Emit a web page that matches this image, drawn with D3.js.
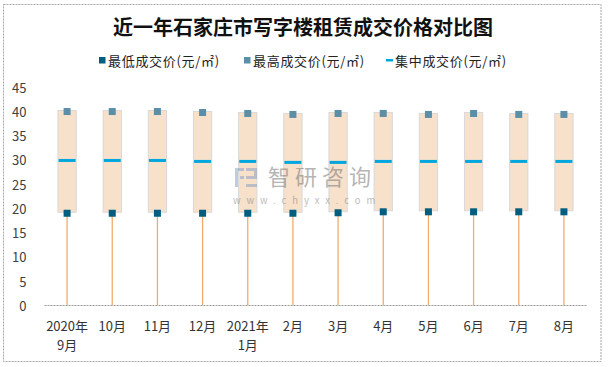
<!DOCTYPE html>
<html>
<head>
<meta charset="utf-8">
<script src="https://cdn.jsdelivr.net/npm/d3@7"></script>
<style>
  html, body { margin: 0; padding: 0; background: #fff; }
  svg { display: block; }
  text { font-family: "Noto Sans CJK SC", "Liberation Sans", sans-serif; }
</style>
</head>
<body>
<svg id="chart" width="609" height="367"></svg>
<script>
// ---- data ----
const months = ["2020年\n9月", "10月", "11月", "12月", "2021年\n1月", "2月", "3月", "4月", "5月", "6月", "7月", "8月"];
const lowPrice  = [19, 19, 19, 19, 19, 19, 19.1, 19.3, 19.3, 19.3, 19.3, 19.3];
const highPrice = [40, 40, 40, 39.8, 39.6, 39.4, 39.6, 39.6, 39.4, 39.6, 39.4, 39.4];
const midPrice  = [29.9, 29.9, 29.9, 29.7, 29.7, 29.5, 29.5, 29.7, 29.7, 29.7, 29.7, 29.7];
const yTicks = [0, 5, 10, 15, 20, 25, 30, 35, 40, 45];
const seriesNames = ["最低成交价(元/㎡)", "最高成交价(元/㎡)", "集中成交价(元/㎡)"];
const titleText = "近一年石家庄市写字楼租赁成交价格对比图";

const colLow = "#005E80", colHigh = "#5B8FA8", colMid = "#00A6DE";
const colBox = "#F8E1CB", colBoxStroke = "#D9D9D9", colStem = "#F0AC6A";

const svg = d3.select("#chart");

// outer frame
svg.append("rect").attr("x", 3.5).attr("y", 4.5).attr("width", 597.5).attr("height", 357)
  .attr("fill", "#fff").attr("stroke", "#a6a6a6").attr("stroke-width", 1).attr("stroke-dasharray", "2,1");

// scales
const x = d3.scaleBand().domain(months).range([44.5, 586.5]).padding(0);
const y = d3.scaleLinear().domain([0, 45]).range([305.3, 87.3]);

// title
svg.append("text").attr("x", 303).attr("y", 26).attr("text-anchor", "middle")
  .attr("dominant-baseline", "central").attr("font-size", 20).attr("font-weight", 700)
  .attr("fill", "#111").text(titleText);

// legend
const lg = svg.append("g");
const legX = [99, 244, 386];
seriesNames.forEach((name, i) => {
  const g = lg.append("g").attr("transform", `translate(${legX[i]},60)`);
  if (i < 2) {
    g.append("rect").attr("x", 0).attr("y", -3).attr("width", 6.5).attr("height", 6.5)
      .attr("fill", i === 0 ? colLow : colHigh);
  } else {
    g.append("rect").attr("x", 0).attr("y", -1).attr("width", 7).attr("height", 2.5).attr("fill", colMid);
  }
  g.append("text").attr("x", 9).attr("y", 0.5).attr("dominant-baseline", "central")
    .attr("font-size", 13).attr("fill", "#222").attr("letter-spacing", 0.7).text(name);
});

// y axis labels
svg.append("g").selectAll("text").data(yTicks).join("text")
  .attr("x", 26.5).attr("y", d => y(d)).attr("text-anchor", "end").attr("dominant-baseline", "central")
  .attr("font-size", 13).attr("fill", "#404040").attr("font-family", "Liberation Sans, Arial, sans-serif")
  .text(d => d);

const idx = d3.range(months.length);
const bw = x.bandwidth() * 0.405;
const cx = i => x(months[i]) + x.bandwidth() / 2;

// stems from 0 to low
svg.append("g").selectAll("line").data(idx).join("line")
  .attr("x1", cx).attr("x2", cx).attr("y1", y(0)).attr("y2", i => y(lowPrice[i]))
  .attr("stroke", colStem).attr("stroke-width", 1.3);

// boxes low..high
svg.append("g").selectAll("rect").data(idx).join("rect")
  .attr("x", i => cx(i) - bw / 2).attr("width", bw)
  .attr("y", i => y(highPrice[i]) - 1).attr("height", i => y(lowPrice[i]) - y(highPrice[i]))
  .attr("fill", colBox).attr("stroke", colBoxStroke).attr("stroke-width", 1);

// mid line
svg.append("g").selectAll("rect").data(idx).join("rect")
  .attr("x", i => cx(i) - 8.5).attr("width", 17)
  .attr("y", i => y(midPrice[i]) - 1.5).attr("height", 3)
  .attr("fill", colMid);

// high markers
svg.append("g").selectAll("rect").data(idx).join("rect")
  .attr("x", i => cx(i) - 3.5).attr("y", i => y(highPrice[i]) - 3.5)
  .attr("width", 7).attr("height", 7).attr("fill", colHigh);

// low markers
svg.append("g").selectAll("rect").data(idx).join("rect")
  .attr("x", i => cx(i) - 3.5).attr("y", i => y(lowPrice[i]) - 3.5)
  .attr("width", 7).attr("height", 7).attr("fill", colLow);

// x axis line
svg.append("line").attr("x1", 44.5).attr("x2", 586.5).attr("y1", 305.5).attr("y2", 305.5)
  .attr("stroke", "#999").attr("stroke-width", 1).attr("stroke-dasharray", "2,1");

// x labels
const xl = svg.append("g").selectAll("text").data(months).join("text")
  .attr("x", d => x(d) + x.bandwidth() / 2).attr("y", 325)
  .attr("text-anchor", "middle").attr("font-size", 13).attr("fill", "#333");
xl.each(function(d) {
  const lines = d.split("\n");
  const t = d3.select(this);
  lines.forEach((ln, k) => {
    t.append("tspan").attr("x", t.attr("x")).attr("y", 325 + k * 19.5)
      .attr("dominant-baseline", "central").text(ln);
  });
});

// watermark (on top, semi-transparent)
const wm = svg.append("g").attr("opacity", 0.5);
const logoCol = "#7f9cc4";
[[235,168,9,3],[235,168,3,19],[246,168,11,3],[254,168,3,10],[246,176,11,3],[246,184,11,3],[240,176,4,3]]
  .forEach(r => wm.append("rect").attr("x", r[0]).attr("y", r[1]).attr("width", r[2]).attr("height", r[3]).attr("fill", logoCol));
wm.append("text").attr("x", 268).attr("y", 175).attr("dominant-baseline", "central")
  .attr("font-size", 22).attr("fill", "#6e6e6e").attr("letter-spacing", 5).text("智研咨询");
wm.append("text").attr("x", 233).attr("y", 199.5).attr("dominant-baseline", "central")
  .attr("font-size", 9.5).attr("fill", "#7a7a7a").attr("letter-spacing", 5.9).text("www.chyxx.com");
</script>
</body>
</html>
